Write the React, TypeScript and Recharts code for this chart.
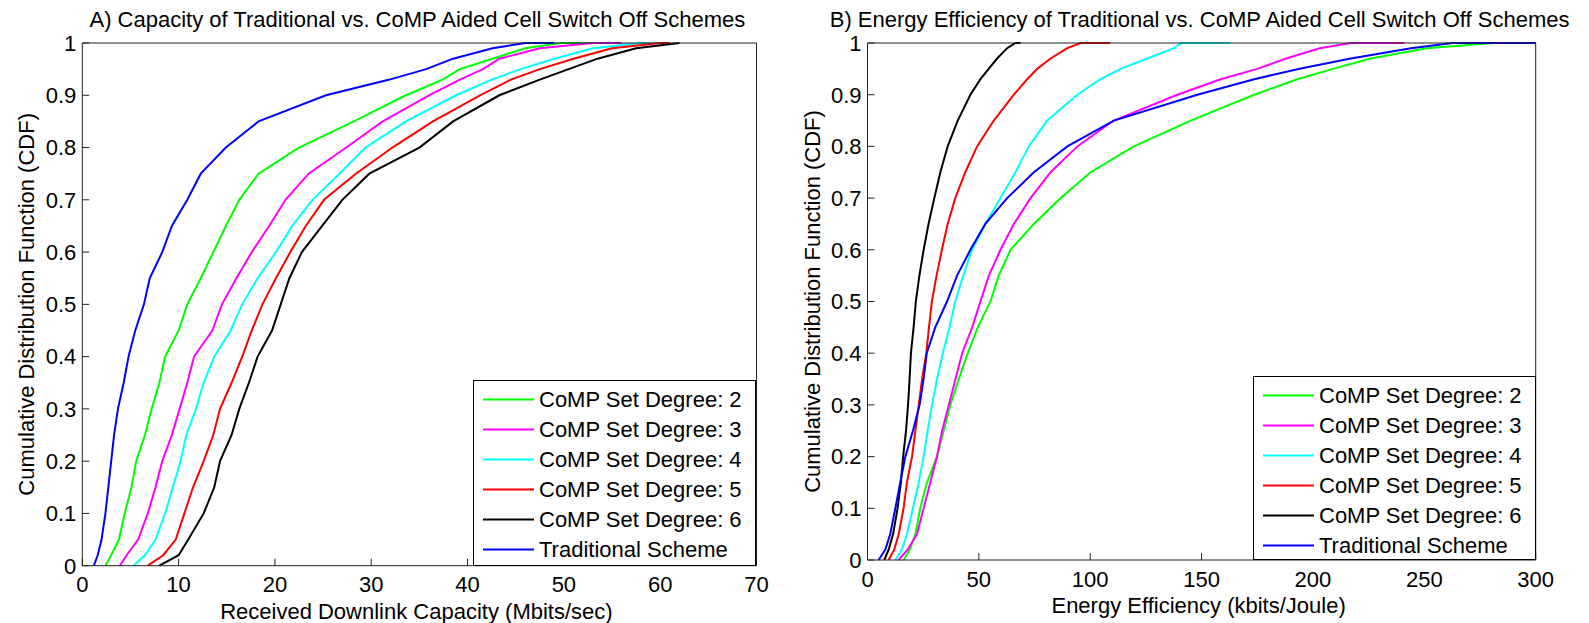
import React from 'react';
import { LineChart, Line, XAxis, YAxis, Legend } from 'recharts';

// CDF levels shared by every curve (last 1 is the flat tail along the top)
const levels = [0, 0.02, 0.05, 0.1, 0.15, 0.2, 0.25, 0.3, 0.35, 0.4, 0.45, 0.5, 0.55, 0.6, 0.65, 0.7, 0.75, 0.8, 0.85, 0.9, 0.93, 0.95, 0.97, 0.99, 1, 1];

// A) capacity (Mbits/sec) at each level
const capDeg2 = [2.4, 3.0, 3.8, 4.4, 5.1, 5.6, 6.5, 7.2, 8.0, 8.6, 10.0, 10.9, 12.3, 13.6, 14.9, 16.3, 18.3, 22.5, 28.2, 33.6, 37.4, 39.2, 42.6, 46.0, 49.7, 53.0];
const capDeg3 = [3.9, 4.6, 5.8, 6.8, 7.6, 8.3, 9.3, 10.1, 10.9, 11.6, 13.5, 14.5, 16.0, 17.6, 19.4, 21.1, 23.5, 27.4, 31.2, 36.0, 39.2, 41.6, 43.3, 47.5, 53.0, 56.0];
const capDeg4 = [5.3, 6.5, 7.6, 8.6, 9.4, 10.2, 10.8, 11.8, 12.6, 13.7, 15.4, 16.6, 18.2, 20.1, 21.8, 23.9, 26.7, 29.4, 33.6, 38.8, 42.5, 45.5, 49.0, 53.0, 58.0, 59.0];
const capDeg5 = [6.8, 8.4, 9.7, 10.6, 11.5, 12.6, 13.6, 14.3, 15.5, 16.6, 17.6, 18.7, 20.1, 21.6, 23.2, 25.1, 28.4, 32.2, 36.4, 41.3, 44.5, 47.5, 51.0, 55.0, 60.0, 61.0];
const capDeg6 = [8.0, 10.0, 11.0, 12.6, 13.7, 14.3, 15.5, 16.3, 17.3, 18.2, 19.7, 20.6, 21.5, 22.8, 24.9, 27.0, 29.8, 35.0, 38.5, 43.3, 47.5, 50.5, 53.5, 57.5, 62.0, 62.0];
const capTrad = [1.2, 1.6, 2.0, 2.4, 2.7, 3.0, 3.3, 3.7, 4.3, 4.8, 5.5, 6.4, 7.0, 8.3, 9.3, 10.9, 12.3, 14.9, 18.3, 25.3, 31.9, 35.7, 38.5, 42.6, 46.0, 49.0];

// B) energy efficiency (kbits/Joule) at each level
const effDeg2 = [16.2, 19.0, 21.5, 23.7, 26.7, 31.2, 34.2, 37.2, 41.0, 45.0, 49.5, 55.2, 58.9, 64.2, 74.7, 86.7, 100.2, 119.6, 145.1, 173.6, 193.0, 209.0, 226.0, 251.0, 281.0, 281.0];
const effDeg3 = [14.0, 18.0, 22.2, 25.2, 28.2, 31.2, 33.5, 36.5, 39.5, 42.5, 47.0, 50.7, 54.5, 59.7, 65.7, 73.2, 82.2, 94.2, 110.6, 139.1, 158.6, 175.0, 188.0, 203.0, 217.0, 241.0];
const effDeg4 = [12.5, 15.5, 17.7, 20.4, 23.0, 25.2, 27.0, 29.0, 31.2, 33.8, 36.8, 39.4, 43.0, 46.9, 52.9, 59.7, 66.4, 72.4, 80.7, 94.2, 104.6, 113.6, 125.6, 137.6, 140.6, 163.0];
const effDeg5 = [9.5, 12.0, 14.0, 16.2, 17.7, 20.0, 21.5, 23.0, 24.5, 26.4, 27.6, 28.9, 31.0, 33.4, 36.0, 39.4, 43.9, 49.2, 56.7, 65.7, 71.7, 76.2, 82.2, 89.7, 95.7, 109.0];
const effDeg6 = [7.5, 9.5, 11.5, 13.5, 15.0, 16.0, 17.3, 18.2, 18.9, 19.5, 20.7, 21.7, 23.3, 25.2, 27.4, 30.0, 32.7, 36.0, 40.5, 46.2, 50.7, 54.4, 58.2, 62.7, 66.4, 68.7];
const effTrad = [5.0, 8.0, 10.2, 12.5, 14.7, 17.0, 20.4, 23.4, 25.2, 26.6, 30.4, 35.7, 40.2, 46.2, 52.9, 62.7, 74.7, 89.7, 110.6, 148.1, 173.6, 194.0, 217.0, 244.0, 262.7, 300.0];

const seriesNames = ['CoMP Set Degree: 2', 'CoMP Set Degree: 3', 'CoMP Set Degree: 4', 'CoMP Set Degree: 5', 'CoMP Set Degree: 6', 'Traditional Scheme'];
const seriesColors = ['#00ff00', '#ff00ff', '#00ffff', '#ff0000', '#000000', '#0000ff'];

const capTicks = [0, 10, 20, 30, 40, 50, 60, 70];
const effTicks = [0, 50, 100, 150, 200, 250, 300];
const cdfTicks = [0, 0.1, 0.2, 0.3, 0.4, 0.5, 0.6, 0.7, 0.8, 0.9, 1];

const FONT = '"Liberation Sans", Arial, sans-serif';
const AXIS = '#222';

const toPoints = (xs: number[]) => xs.map((x, i) => ({ x, y: levels[i] }));

const LegendBox = ({ w, h }: { w: number; h: number }) => (
  <svg width={w} height={h} style={{ display: 'block' }}>
    <rect x={0.5} y={0.5} width={w - 1} height={h - 1} fill="#fff" stroke="#000" />
    {seriesNames.map((name, i) => (
      <g key={name}>
        <line x1={10} x2={61} y1={19.5 + 30 * i} y2={19.5 + 30 * i} stroke={seriesColors[i]} strokeWidth={2} />
        <text x={66} y={19.5 + 30 * i} dy="0.36em" fontSize={22} fontFamily={FONT} fill="#000">{name}</text>
      </g>
    ))}
  </svg>
);

interface PanelProps {
  title: string;
  xLabel: string;
  xTicks: number[];
  series: number[][];
  width: number;
  margin: { top: number; right: number; bottom: number; left: number };
  legendBox: { left: number; top: number; width: number; height: number };
}

const Panel: React.FC<PanelProps> = ({ title, xLabel, xTicks, series, width, margin, legendBox }) => {
  const xMax = xTicks[xTicks.length - 1];
  const tickStyle = { fill: '#000', fontSize: 22, fontFamily: FONT };

  const titleContent = (p: any) => {
    const { x, y, width: w } = p.viewBox;
    return (
      <text x={x + w / 2 - 2} y={y - 15} textAnchor="middle" fontSize={22} fontFamily={FONT} fill="#000">{title}</text>
    );
  };
  const xLabelContent = (p: any) => {
    const { x, y, width: w } = p.viewBox;
    return (
      <text x={x + w / 2 - 3} y={y + 53} textAnchor="middle" fontSize={22} fontFamily={FONT} fill="#000">{xLabel}</text>
    );
  };
  const yLabelContent = (p: any) => {
    const { x, y, width: w, height: h } = p.viewBox;
    const bx = x + w - 48;
    const cy = y + h / 2;
    return (
      <text x={bx} y={cy} transform={`rotate(-90 ${bx} ${cy})`} textAnchor="middle" fontSize={22} fontFamily={FONT} fill="#000">
        Cumulative Distribution Function (CDF)
      </text>
    );
  };

  return (
    <LineChart width={width} height={623} margin={margin}>
      <XAxis
        xAxisId="b"
        dataKey="x"
        type="number"
        domain={[0, xMax]}
        ticks={xTicks}
        height={40}
        stroke={AXIS}
        tickSize={-7}
        tickMargin={18}
        tick={tickStyle}
        label={xLabelContent}
      />
      <XAxis
        xAxisId="t"
        orientation="top"
        dataKey="x"
        type="number"
        domain={[0, xMax]}
        ticks={xTicks}
        height={1}
        stroke={AXIS}
        tickSize={-7}
        tickFormatter={() => ''}
        label={titleContent}
      />
      <YAxis
        yAxisId="l"
        type="number"
        domain={[0, 1]}
        ticks={cdfTicks}
        width={60}
        stroke={AXIS}
        tickSize={-7}
        tickMargin={13}
        tick={tickStyle}
        label={yLabelContent}
      />
      <YAxis
        yAxisId="r"
        orientation="right"
        type="number"
        domain={[0, 1]}
        ticks={cdfTicks}
        width={1}
        stroke={AXIS}
        tickSize={-7}
        tickFormatter={() => ''}
      />
      {series.map((xs, i) => (
        <Line
          key={seriesNames[i]}
          xAxisId="b"
          yAxisId="l"
          data={toPoints(xs)}
          dataKey="y"
          type="linear"
          stroke={seriesColors[i]}
          strokeWidth={2}
          dot={false}
          isAnimationActive={false}
        />
      ))}
      <Legend
        layout="vertical"
        align="center"
        verticalAlign="middle"
        wrapperStyle={{ ...legendBox, position: 'absolute' }}
        content={() => <LegendBox w={legendBox.width} h={legendBox.height} />}
      />
    </LineChart>
  );
};

const App: React.FC = () => (
  <div style={{ position: 'absolute', left: 0, top: 0, width: 1589, height: 623, background: '#fff' }}>
    <div style={{ position: 'absolute', left: 0, top: 0 }}>
      <Panel
        title="A) Capacity of Traditional vs. CoMP Aided Cell Switch Off Schemes"
        xLabel="Received Downlink Capacity (Mbits/sec)"
        xTicks={capTicks}
        series={[capDeg2, capDeg3, capDeg4, capDeg5, capDeg6, capTrad]}
        width={790}
        margin={{ top: 42, right: 32.5, bottom: 17.3, left: 22.3 }}
        legendBox={{ left: 473, top: 380, width: 283, height: 186 }}
      />
    </div>
    <div style={{ position: 'absolute', left: 790, top: 0 }}>
      <Panel
        title="B) Energy Efficiency of Traditional vs. CoMP Aided Cell Switch Off Schemes"
        xLabel="Energy Efficiency (kbits/Joule)"
        xTicks={effTicks}
        series={[effDeg2, effDeg3, effDeg4, effDeg5, effDeg6, effTrad]}
        width={799}
        margin={{ top: 42, right: 52.3, bottom: 23, left: 17.5 }}
        legendBox={{ left: 463, top: 376, width: 283, height: 184 }}
      />
    </div>
  </div>
);

export default App;
